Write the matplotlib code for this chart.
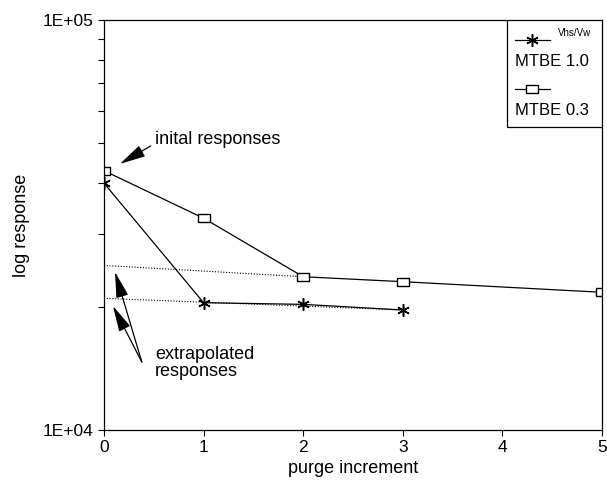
import matplotlib.pyplot as plt
from matplotlib.path import Path
from matplotlib.ticker import FixedLocator, NullFormatter

plt.rcParams['font.family'] = ['Liberation Sans', 'DejaVu Sans']

# data
increment_10 = [0, 1, 2, 3]
response_10 = [40000, 20440, 20250, 19620]      # MTBE 1.0 (stars)
increment_03 = [0, 1, 2, 3, 5]
response_03 = [42900, 32850, 23650, 23000, 21670]  # MTBE 0.3 (squares)

# extrapolated lines back to increment 0
extrap_hi_x = [0, 2]
extrap_hi_y = [25200, 23650]
extrap_lo_x = [0, 3]
extrap_lo_y = [20950, 19620]

fig = plt.figure(figsize=(6.07, 4.87), dpi=100)
ax = fig.add_axes([0.1713, 0.117, 0.8205, 0.842])

star = (6, 2, 0)
box = Path([(-1, -0.65), (1, -0.65), (1, 0.65), (-1, 0.65), (-1, -0.65)],
           [Path.MOVETO, Path.LINETO, Path.LINETO, Path.LINETO, Path.CLOSEPOLY])

ax.plot(extrap_hi_x, extrap_hi_y, color='black', lw=0.8, ls=(0, (1, 1.5)))
ax.plot(extrap_lo_x, extrap_lo_y, color='black', lw=0.8, ls=(0, (1, 1.5)))
ax.plot(increment_10, response_10, color='black', lw=0.9, marker=star,
        markersize=9, markeredgewidth=1.1)
ax.plot(increment_03, response_03, color='black', lw=0.9, marker=box,
        markersize=8, markerfacecolor='white', markeredgewidth=1.0)

ax.set_yscale('log')
ax.set_xlim(0, 5)
ax.set_ylim(1e4, 1e5)
ax.set_xticks([0, 1, 2, 3, 4, 5])
ax.yaxis.set_major_locator(FixedLocator([1e4, 1e5]))
ax.set_yticklabels(['1E+04', '1E+05'])
ax.yaxis.set_minor_locator(FixedLocator([k * 1e4 for k in range(2, 10)]))
ax.yaxis.set_minor_formatter(NullFormatter())
ax.tick_params(direction='out', labelsize=12.5, length=4, width=0.8)
ax.tick_params(which='minor', length=4, width=0.8)
for s in ax.spines.values():
    s.set_linewidth(0.9)

ax.set_xlabel('purge increment', fontsize=13, labelpad=3)
ax.set_ylabel('log response', fontsize=13, labelpad=9)

# annotations
arrow = dict(arrowstyle='-|>,head_length=1.6,head_width=0.38', color='black',
             lw=0.9, shrinkA=0, shrinkB=0)
ax.annotate('', xy=(0.16, 44550), xytext=(0.47, 49300), arrowprops=arrow)
ax.text(0.51, 50970, 'inital responses', fontsize=13, va='center', ha='left')
ax.annotate('', xy=(0.11, 24300), xytext=(0.38, 14650), arrowprops=arrow)
ax.annotate('', xy=(0.09, 20070), xytext=(0.38, 14650), arrowprops=arrow)
ax.text(0.51, 14570, 'extrapolated\nresponses', fontsize=13, va='center',
        ha='left', linespacing=1.0)

# legend box drawn by hand
tr = ax.transAxes
ax.add_patch(plt.Rectangle((0.809, 0.739), 0.191, 0.261, transform=tr,
                           facecolor='white', edgecolor='black', lw=0.9,
                           zorder=5))
ax.plot([0.825, 0.895], [0.951, 0.951], transform=tr, color='black', lw=0.9,
        zorder=6)
ax.plot([0.86], [0.951], transform=tr, color='black', marker=star,
        markersize=9, markeredgewidth=1.1, zorder=6)
ax.text(0.912, 0.968, 'Vhs/Vw', transform=tr, fontsize=7, va='center',
        ha='left', zorder=6)
ax.text(0.825, 0.898, 'MTBE 1.0', transform=tr, fontsize=12, va='center',
        ha='left', zorder=6)
ax.plot([0.825, 0.895], [0.832, 0.832], transform=tr, color='black', lw=0.9,
        zorder=6)
ax.plot([0.86], [0.832], transform=tr, color='black', marker=box,
        markersize=8, markerfacecolor='white', markeredgewidth=1.0, zorder=6)
ax.text(0.825, 0.78, 'MTBE 0.3', transform=tr, fontsize=12, va='center',
        ha='left', zorder=6)

fig.savefig('out.png', dpi=100)
